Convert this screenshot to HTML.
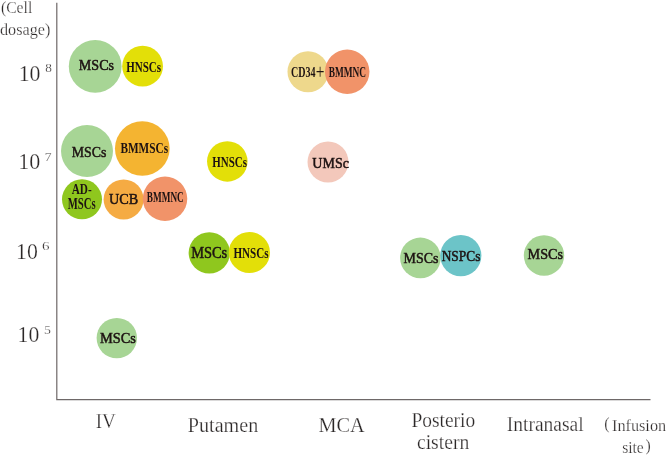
<!DOCTYPE html>
<html><head><meta charset="utf-8"><title>Cell dosage vs infusion site</title>
<style>
html,body{margin:0;padding:0;background:#fff;}
svg{display:block;}
text{font-family:"Liberation Serif",serif;}
.ax{fill:#2b2727;stroke:#fff;stroke-width:0.25;}
.lb{fill:#1d1212;font-weight:bold;}
.lr{fill:#1d1212;stroke:#1d1212;stroke-width:0.5;}
</style></head><body>
<svg width="667" height="456" viewBox="0 0 667 456">
<rect width="667" height="456" fill="#fff"/>
<path d="M56.8 2.8V399.7H650.5" fill="none" stroke="#6e6868" stroke-width="1.2"/>
<circle cx="95.2" cy="66.4" r="26.40" fill="#a7d595"/>
<circle cx="142.6" cy="66.2" r="20.40" fill="#e3df08"/>
<circle cx="308.0" cy="71.7" r="20.50" fill="#eed88c"/>
<circle cx="347.2" cy="71.8" r="22.25" fill="#f19369"/>
<circle cx="87.0" cy="151.1" r="26.00" fill="#a7d595"/>
<circle cx="142.3" cy="148.5" r="27.35" fill="#f4b431"/>
<circle cx="227.3" cy="161.4" r="20.25" fill="#e3df08"/>
<circle cx="328.0" cy="162.0" r="20.50" fill="#f3c8bb"/>
<circle cx="82.0" cy="199.3" r="20.00" fill="#8fc71e"/>
<circle cx="123.6" cy="199.4" r="20.00" fill="#f5ab43"/>
<circle cx="165.0" cy="198.7" r="22.25" fill="#f19369"/>
<circle cx="209.3" cy="252.8" r="20.65" fill="#8fc71e"/>
<circle cx="249.4" cy="252.5" r="20.60" fill="#e3df08"/>
<circle cx="420.4" cy="257.9" r="20.30" fill="#a7d595"/>
<circle cx="460.8" cy="255.6" r="20.60" fill="#6cc4c8"/>
<circle cx="544.0" cy="255.5" r="20.20" fill="#a7d595"/>
<circle cx="116.8" cy="338.1" r="20.20" fill="#a7d595"/>
<text class="lr" x="78.8" y="69.6" font-size="15.0" textLength="35.26" lengthAdjust="spacingAndGlyphs">MSCs</text>
<text class="lb" x="126.25" y="71.5" font-size="15.5" textLength="34.86" lengthAdjust="spacingAndGlyphs">HNSCs</text>
<text class="lb"><tspan x="291.0" y="76.7" font-size="15.0" textLength="24.57" lengthAdjust="spacingAndGlyphs">CD34</tspan><tspan x="315.8" y="78.5" font-size="20" style="font-weight:normal" textLength="8.7" lengthAdjust="spacingAndGlyphs">+</tspan></text>
<text class="lb" x="328.75" y="76.7" font-size="15.0" textLength="37.37" lengthAdjust="spacingAndGlyphs">BMMNC</text>
<text class="lr" x="71.75" y="156.7" font-size="15.5" textLength="34.66" lengthAdjust="spacingAndGlyphs">MSCs</text>
<text class="lb" x="120.45" y="152.5" font-size="14.5" textLength="47.65" lengthAdjust="spacingAndGlyphs">BMMSCs</text>
<text class="lb" x="212.3" y="167.3" font-size="15.0" textLength="34.66" lengthAdjust="spacingAndGlyphs">HNSCs</text>
<text class="lr" x="312.35" y="168.1" font-size="15.0" textLength="36.55" lengthAdjust="spacingAndGlyphs">UMSc</text>
<text class="lb"><tspan x="71.65" y="194.3" font-size="15.5" textLength="20.01" lengthAdjust="spacingAndGlyphs">AD-</tspan><tspan x="67.8" y="208.6" font-size="16.5" textLength="27.81" lengthAdjust="spacingAndGlyphs">MSCs</tspan></text>
<text class="lr" x="109.0" y="203.6" font-size="15.0" textLength="29.11" lengthAdjust="spacingAndGlyphs">UCB</text>
<text class="lb" x="146.75" y="201.6" font-size="15.5" textLength="37.02" lengthAdjust="spacingAndGlyphs">BMMNC</text>
<text class="lr" x="191.15" y="257.6" font-size="16.0" textLength="36.10" lengthAdjust="spacingAndGlyphs">MSCs</text>
<text class="lb" x="233.45" y="258.3" font-size="15.0" textLength="35.16" lengthAdjust="spacingAndGlyphs">HNSCs</text>
<text class="lr" x="403.6" y="262.9" font-size="15.5" textLength="34.96" lengthAdjust="spacingAndGlyphs">MSCs</text>
<text class="lr" x="441.65" y="260.8" font-size="15.5" textLength="38.75" lengthAdjust="spacingAndGlyphs">NSPCs</text>
<text class="lr" x="527.6" y="258.9" font-size="15.5" textLength="35.45" lengthAdjust="spacingAndGlyphs">MSCs</text>
<text class="lr" x="99.95" y="342.9" font-size="15.5" textLength="35.96" lengthAdjust="spacingAndGlyphs">MSCs</text>
<text class="ax" x="0.95" y="13.4" font-size="16" textLength="31.33" lengthAdjust="spacingAndGlyphs">(Cell</text>
<text class="ax" x="0.0" y="34.6" font-size="16" textLength="50.28" lengthAdjust="spacingAndGlyphs">dosage)</text>
<text class="ax"><tspan x="18.7" y="80.6" font-size="24" textLength="21.78" lengthAdjust="spacingAndGlyphs">10</tspan><tspan x="45.35" y="72.3" font-size="13" textLength="6.61" lengthAdjust="spacingAndGlyphs">8</tspan></text>
<text class="ax"><tspan x="18.35" y="169.1" font-size="24" textLength="22.01" lengthAdjust="spacingAndGlyphs">10</tspan><tspan x="44.85" y="160.5" font-size="13" textLength="6.80" lengthAdjust="spacingAndGlyphs">7</tspan></text>
<text class="ax"><tspan x="16.05" y="259.0" font-size="24" textLength="21.78" lengthAdjust="spacingAndGlyphs">10</tspan><tspan x="42.1" y="250.4" font-size="13" textLength="7.53" lengthAdjust="spacingAndGlyphs">6</tspan></text>
<text class="ax"><tspan x="17.55" y="341.7" font-size="24" textLength="21.69" lengthAdjust="spacingAndGlyphs">10</tspan><tspan x="44.05" y="334.0" font-size="13" textLength="6.88" lengthAdjust="spacingAndGlyphs">5</tspan></text>
<text class="ax" x="95.75" y="428.3" font-size="20" textLength="20.15" lengthAdjust="spacingAndGlyphs">IV</text>
<text class="ax" x="187.85" y="431.5" font-size="20" textLength="70.41" lengthAdjust="spacingAndGlyphs">Putamen</text>
<text class="ax" x="318.5" y="432.0" font-size="20" textLength="46.21" lengthAdjust="spacingAndGlyphs">MCA</text>
<text class="ax" x="411.5" y="426.9" font-size="20" textLength="63.72" lengthAdjust="spacingAndGlyphs">Posterio</text>
<text class="ax" x="416.95" y="448.6" font-size="20" textLength="52.32" lengthAdjust="spacingAndGlyphs">cistern</text>
<text class="ax" x="506.75" y="430.9" font-size="20" textLength="76.92" lengthAdjust="spacingAndGlyphs">Intranasal</text>
<text class="ax"><tspan x="604.3" y="429.3" font-size="16" textLength="5.30" lengthAdjust="spacingAndGlyphs">(</tspan><tspan x="612.0" y="431.4" font-size="16" textLength="54.11" lengthAdjust="spacingAndGlyphs">Infusion</tspan></text>
<text class="ax"><tspan x="622.15" y="452.8" font-size="16" textLength="21.55" lengthAdjust="spacingAndGlyphs">site</tspan><tspan x="645.5" y="451.3" font-size="16" textLength="5.25" lengthAdjust="spacingAndGlyphs">)</tspan></text>
</svg>
</body></html>
